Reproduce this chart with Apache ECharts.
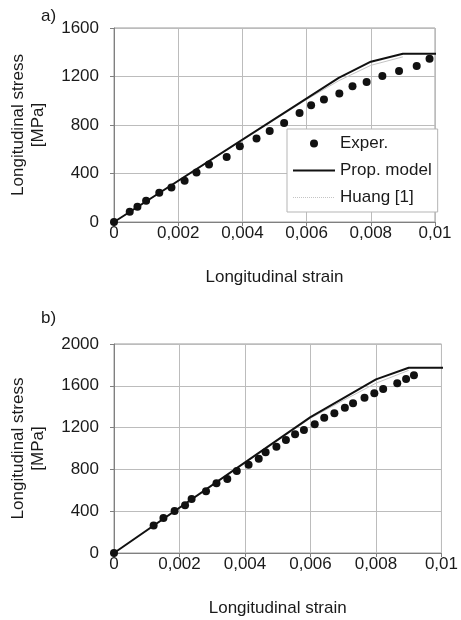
<!DOCTYPE html>
<html>
<head>
<meta charset="utf-8">
<script src="https://cdn.jsdelivr.net/npm/echarts@6/dist/echarts.min.js"></script>
<style>
  html, body { margin: 0; padding: 0; background: #fff; }
  #chart { width: 461px; height: 620px; }
</style>
</head>
<body>
<div id="chart"></div>
<script>
// Panel a) — experimental points [strain, stress MPa]
var experA = [
  [0, 0], [0.00049, 85], [0.00073, 126], [0.00100, 175], [0.00141, 241],
  [0.00179, 285], [0.00220, 340], [0.00257, 409], [0.00296, 475], [0.00351, 537],
  [0.00392, 625], [0.00444, 689], [0.00485, 751], [0.00530, 817], [0.00578, 900],
  [0.00614, 963], [0.00654, 1010], [0.00702, 1059], [0.00743, 1119], [0.00787, 1155],
  [0.00836, 1204], [0.00888, 1245], [0.00943, 1286], [0.00983, 1347]
];
// Panel a) — proposed model and Huang [1] curves
var modelA = [[0, 0], [0.0070, 1188], [0.0080, 1322], [0.0090, 1388], [0.0101, 1388]];
var huangA = [[0, 0], [0.0060, 1010], [0.0070, 1165], [0.0080, 1292], [0.0090, 1362]];

// Panel b) — experimental points
var experB = [
  [0, 0], [0.00121, 262], [0.00151, 335], [0.00185, 402], [0.00217, 456],
  [0.00237, 517], [0.00281, 590], [0.00313, 667], [0.00346, 708], [0.00375, 785],
  [0.00411, 845], [0.00442, 902], [0.00463, 963], [0.00496, 1017], [0.00525, 1081],
  [0.00553, 1136], [0.00580, 1177], [0.00613, 1232], [0.00642, 1295], [0.00673, 1337],
  [0.00705, 1391], [0.00730, 1433], [0.00765, 1486], [0.00795, 1528], [0.00822, 1569],
  [0.00865, 1624], [0.00892, 1665], [0.00916, 1702]
];
var modelB = [[0, 0], [0.0060, 1300], [0.0080, 1662], [0.0090, 1773], [0.0102, 1773]];
var huangB = [[0, 0], [0.0060, 1290], [0.0070, 1460], [0.0080, 1625], [0.0090, 1748]];

// Axis settings
var strainMax = 0.01, strainStep = 0.002;
var stressMaxA = 1600, stressMaxB = 2000, stressStep = 400;
var panelLabels = ['a)', 'b)'];
var seriesNames = ['Exper.', 'Prop. model', 'Huang [1]'];
var xName = 'Longitudinal strain';
var yName = 'Longitudinal stress\n[MPa]';

var FONT = '"Liberation Sans", Arial, sans-serif';
var TXT = '#1a1a1a';
var MODEL_COLOR = '#111';
var HUANG_COLOR = '#c4c4c4';

function strainLabel(v) {
  if (v === 0) return '0';
  return String(+v.toFixed(3)).replace('.', ',');
}
function stressLabel(v) {
  return String(Math.round(v));
}

function xAxisCfg(idx) {
  return {
    type: 'value', gridIndex: idx, min: 0, max: strainMax, interval: strainStep,
    name: xName, nameLocation: 'middle', nameGap: 47,
    nameTextStyle: { fontFamily: FONT, fontSize: 17, color: TXT },
    axisLine: { show: true, lineStyle: { color: '#808080', width: 1 } },
    axisTick: { show: true, inside: false, length: 4, lineStyle: { color: '#808080' } },
    axisLabel: { formatter: strainLabel, fontFamily: FONT, fontSize: 17, color: TXT, margin: 3 },
    splitLine: { show: true, lineStyle: { color: '#bcbcbc', width: 1 } }
  };
}
function yAxisCfg(idx, max) {
  return {
    type: 'value', gridIndex: idx, min: 0, max: max, interval: stressStep,
    name: yName, nameLocation: 'middle', nameGap: 66, nameRotate: 90,
    nameTextStyle: { fontFamily: FONT, fontSize: 17, color: TXT, lineHeight: 20, align: 'center' },
    axisLine: { show: true, lineStyle: { color: '#808080', width: 1 } },
    axisTick: { show: true, inside: false, length: 4, lineStyle: { color: '#808080' } },
    axisLabel: { formatter: stressLabel, fontFamily: FONT, fontSize: 17, color: TXT, margin: 15 },
    splitLine: { show: true, lineStyle: { color: '#bcbcbc', width: 1 } }
  };
}
function panelSeries(idx, exper, model, huang) {
  return [
    {
      name: seriesNames[2], type: 'line', xAxisIndex: idx, yAxisIndex: idx,
      data: huang, symbol: 'none', clip: false, z: 2,
      itemStyle: { color: HUANG_COLOR },
      lineStyle: { color: HUANG_COLOR, width: 1 }
    },
    {
      name: seriesNames[1], type: 'line', xAxisIndex: idx, yAxisIndex: idx,
      data: model, symbol: 'none', clip: false, z: 3,
      itemStyle: { color: MODEL_COLOR },
      lineStyle: { color: MODEL_COLOR, width: 2 }
    },
    {
      name: seriesNames[0], type: 'scatter', xAxisIndex: idx, yAxisIndex: idx,
      data: exper, symbol: 'circle', symbolSize: 8, z: 4,
      itemStyle: { color: '#111', opacity: 1 }
    }
  ];
}

var chart = echarts.init(document.getElementById('chart'), null, { renderer: 'canvas' });
chart.setOption({
  animation: false,
  backgroundColor: '#fff',
  title: [
    { text: panelLabels[0], left: 36, top: 3, textStyle: { fontFamily: FONT, fontSize: 17, fontWeight: 'normal', color: TXT } },
    { text: panelLabels[1], left: 36, top: 305, textStyle: { fontFamily: FONT, fontSize: 17, fontWeight: 'normal', color: TXT } }
  ],
  grid: [
    { left: 112, top: 28, width: 323, height: 194, show: true, borderColor: '#9a9a9a', borderWidth: 1, backgroundColor: 'transparent' },
    { left: 112, top: 344, width: 333, height: 209, show: true, borderColor: '#9a9a9a', borderWidth: 1, backgroundColor: 'transparent' }
  ],
  xAxis: [xAxisCfg(0), xAxisCfg(1)],
  yAxis: [yAxisCfg(0, stressMaxA), yAxisCfg(1, stressMaxB)],
  legend: {
    data: [
      { name: seriesNames[0], icon: 'circle', itemStyle: { color: '#111', opacity: 1 } },
      { name: seriesNames[1], itemStyle: { opacity: 0 }, lineStyle: { color: MODEL_COLOR, width: 2 } },
      { name: seriesNames[2], itemStyle: { opacity: 0 }, lineStyle: { color: HUANG_COLOR, width: 1, type: 'dotted' } }
    ],
    orient: 'vertical', left: 287, top: 129,
    itemWidth: 42, itemHeight: 8, itemGap: 8,
    padding: [5, 6, 5, 5],
    backgroundColor: '#fff', borderColor: '#b5b5b5', borderWidth: 1,
    textStyle: { fontFamily: FONT, fontSize: 17, color: TXT, lineHeight: 19 },
    selectedMode: false
  },
  series: [].concat(
    panelSeries(0, experA, modelA, huangA),
    panelSeries(1, experB, modelB, huangB)
  )
});
</script>
</body>
</html>
